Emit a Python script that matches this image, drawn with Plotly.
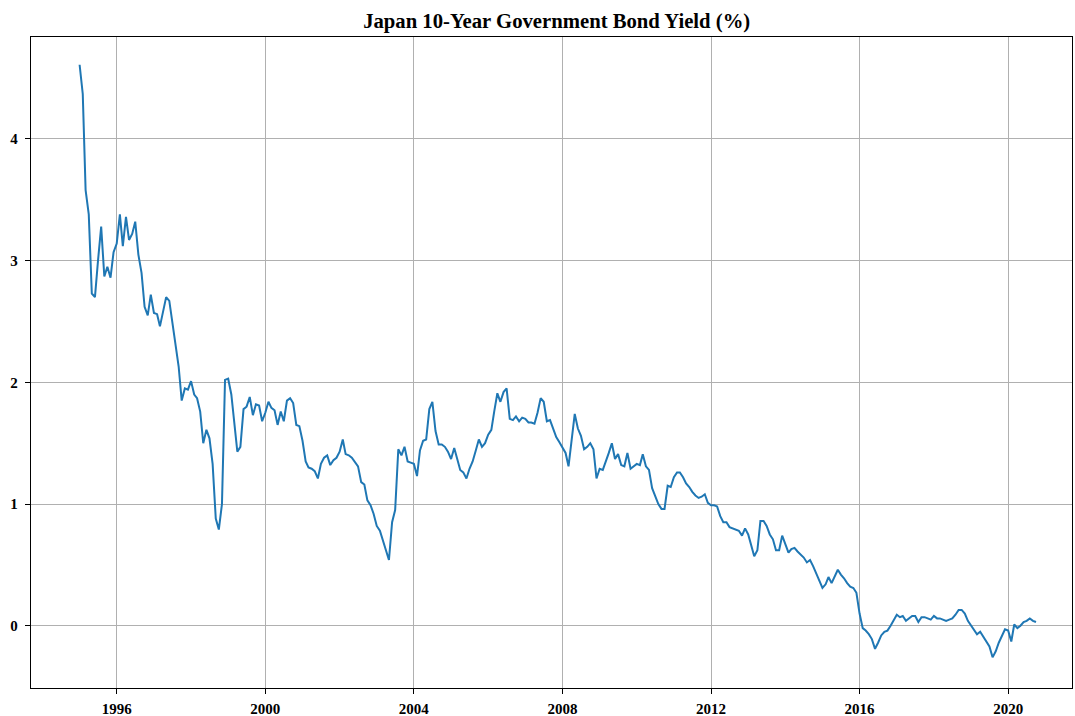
import pandas as pd
import plotly.graph_objects as go

# Monthly observations, first-of-month dates
start_month = "1995-01-01"

yields_1995_1997 = [
    4.61, 4.37, 3.58, 3.38, 2.73, 2.70, 3.00, 3.28, 2.87, 2.95, 2.86, 3.07,
    3.14, 3.38, 3.12, 3.36, 3.17, 3.22, 3.32, 3.05, 2.90, 2.62, 2.55, 2.72,
    2.57, 2.56, 2.46, 2.57, 2.70, 2.67, 2.50, 2.29, 2.13, 1.85, 1.95, 1.94,
]
yields_1998_2000 = [
    2.01, 1.90, 1.87, 1.76, 1.50, 1.61, 1.54, 1.33, 0.88, 0.79, 1.00, 2.02,
    2.03, 1.90, 1.65, 1.43, 1.47, 1.78, 1.80, 1.88, 1.73, 1.82, 1.81, 1.68,
    1.75, 1.84, 1.79, 1.77, 1.65, 1.76, 1.68, 1.85, 1.87, 1.83, 1.65, 1.64,
]
yields_2001_2003 = [
    1.52, 1.35, 1.30, 1.29, 1.27, 1.21, 1.33, 1.38, 1.40, 1.32, 1.36, 1.38,
    1.43, 1.53, 1.41, 1.40, 1.38, 1.34, 1.31, 1.18, 1.16, 1.03, 0.99, 0.92,
    0.82, 0.78, 0.71, 0.63, 0.54, 0.85, 0.95, 1.45, 1.40, 1.47, 1.35, 1.34,
]
yields_2004_2006 = [
    1.33, 1.23, 1.44, 1.52, 1.53, 1.78, 1.84, 1.60, 1.49, 1.49, 1.47, 1.43,
    1.37, 1.46, 1.38, 1.28, 1.26, 1.21, 1.29, 1.35, 1.44, 1.53, 1.47, 1.50,
    1.57, 1.61, 1.76, 1.91, 1.84, 1.92, 1.95, 1.70, 1.69, 1.72, 1.68, 1.71,
]
yields_2007_2009 = [
    1.70, 1.67, 1.67, 1.66, 1.75, 1.87, 1.84, 1.68, 1.69, 1.62, 1.55, 1.51,
    1.46, 1.42, 1.31, 1.52, 1.74, 1.62, 1.56, 1.45, 1.47, 1.50, 1.45, 1.21,
    1.29, 1.28, 1.34, 1.42, 1.50, 1.37, 1.41, 1.32, 1.31, 1.42, 1.29, 1.31,
]
yields_2010_2012 = [
    1.33, 1.32, 1.41, 1.31, 1.28, 1.13, 1.07, 1.00, 0.96, 0.96, 1.15, 1.14,
    1.22, 1.26, 1.26, 1.22, 1.17, 1.14, 1.10, 1.07, 1.05, 1.06, 1.08, 1.01,
    0.99, 0.99, 0.98, 0.90, 0.85, 0.85, 0.81, 0.80, 0.79, 0.78, 0.74, 0.80,
]
yields_2013_2015 = [
    0.75, 0.66, 0.57, 0.62, 0.86, 0.86, 0.82, 0.75, 0.71, 0.62, 0.62, 0.74,
    0.66, 0.60, 0.63, 0.64, 0.61, 0.58, 0.56, 0.52, 0.54, 0.49, 0.43, 0.37,
    0.31, 0.34, 0.40, 0.35, 0.40, 0.46, 0.42, 0.39, 0.35, 0.32, 0.31, 0.27,
]
yields_2016_2018 = [
    0.10, -0.02, -0.04, -0.07, -0.11, -0.19, -0.14, -0.08, -0.05, -0.04, 0.00, 0.05,
    0.09, 0.07, 0.08, 0.04, 0.06, 0.08, 0.08, 0.03, 0.07, 0.07, 0.06, 0.05,
    0.08, 0.06, 0.06, 0.05, 0.04, 0.05, 0.06, 0.09, 0.13, 0.13, 0.10, 0.04,
]
yields_2019_2020 = [
    0.00, -0.03, -0.07, -0.05, -0.09, -0.14, -0.17, -0.26, -0.21, -0.14, -0.08, -0.03,
    -0.04, -0.13, 0.01, -0.02, 0.00, 0.03, 0.04, 0.06, 0.04, 0.03,
]

yields = (yields_1995_1997 + yields_1998_2000 + yields_2001_2003 + yields_2004_2006
          + yields_2007_2009 + yields_2010_2012 + yields_2013_2015 + yields_2016_2018
          + yields_2019_2020)
dates = pd.date_range(start_month, periods=len(yields), freq="MS")

x_tick_vals = ["1996-01-01", "2000-01-01", "2004-01-01", "2008-01-01",
               "2012-01-01", "2016-01-01", "2020-01-01"]
x_tick_text = ["1996", "2000", "2004", "2008", "2012", "2016", "2020"]
y_tick_vals = [0, 1, 2, 3, 4]

title_text = "Japan 10-Year Government Bond Yield (%)"

FONT = "Liberation Serif, Times New Roman, serif"

fig = go.Figure()
fig.add_trace(go.Scatter(
    x=dates, y=yields, mode="lines",
    line=dict(color="#1f77b4", width=2),
    showlegend=False,
))

axis_common = dict(
    showgrid=True, gridcolor="#b0b0b0", gridwidth=1.3,
    showline=True, linecolor="black", linewidth=1.3, mirror=True,
    ticks="outside", ticklen=5, tickwidth=1.2, tickcolor="black",
    zeroline=False, automargin=False,
    tickfont=dict(family=FONT, size=15, color="black", weight="bold"),
)

fig.update_layout(
    width=1075, height=716,
    margin=dict(l=31, r=3, t=37, b=28),
    paper_bgcolor="white", plot_bgcolor="white",
    title=dict(
        text=title_text, xref="paper", x=0.505, xanchor="center",
        y=1 - 21 / 716, yanchor="middle",
        font=dict(family=FONT, size=20.7, color="black", weight="bold"),
    ),
    xaxis=dict(
        type="date", range=["1993-09-10", "2021-09-20"],
        tickvals=x_tick_vals, ticktext=x_tick_text,
        ticklabelstandoff=2,
        **axis_common,
    ),
    yaxis=dict(
        range=[-0.512, 4.838], tickvals=y_tick_vals,
        ticklabelstandoff=4,
        **axis_common,
    ),
)

fig.write_html(
    "out.html",
    config={"displayModeBar": False},
    post_script="document.body.style.margin='0';document.body.style.overflow='hidden';",
)
